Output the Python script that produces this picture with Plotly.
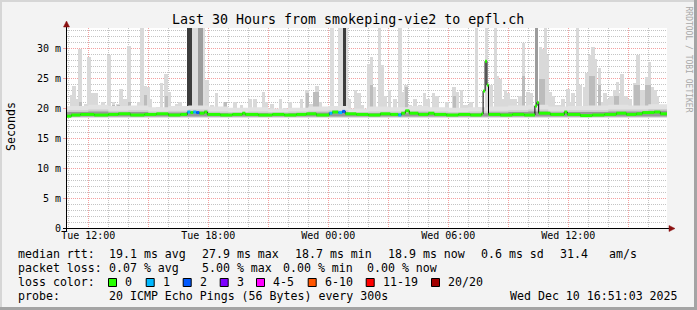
import plotly.graph_objects as go

# ---------------- data (hours counted from Tue 00:00, values in ms) ----------------
x_tick_hours = [12, 15, 18, 21, 24, 27, 30, 33, 36, 39]
x_tick_labels = ["Tue 12:00", "", "Tue 18:00", "", "Wed 00:00", "", "Wed 06:00", "", "Wed 12:00", ""]
x_minor_hours = [11, 13, 14, 16, 17, 19, 20, 22, 23, 25, 26, 28, 29, 31, 32, 34, 35, 37, 38, 40]
y_tick_values = [0, 5, 10, 15, 20, 25, 30]
y_tick_labels = ["0", "5 m", "10 m", "15 m", "20 m", "25 m", "30 m"]
y_minor_values = [1, 2, 3, 4, 6, 7, 8, 9, 11, 12, 13, 14, 16, 17, 18, 19, 21, 22, 23, 24, 26, 27, 28, 29,
                  31, 32, 33]

# outlier spikes of the smoke (max ping of the step)
spike_hours = [11.19, 11.29, 11.59, 11.86, 12.04, 12.19, 12.39, 12.59, 13.04, 13.26, 13.49, 13.64,
               14.04, 14.29, 14.69, 14.86, 14.99, 15.26, 15.49, 15.67, 15.89, 16.06, 16.24, 16.44,
               16.84, 17.94, 18.19, 18.41, 18.64, 18.84, 19.09, 19.66, 19.89, 20.34, 20.59, 20.76,
               20.91, 21.61, 21.84, 22.49, 22.66, 22.94, 23.14, 23.31, 23.44, 23.84, 24.36, 25.36,
               25.54, 25.71, 26.01, 26.16, 26.29, 26.56, 26.69, 27.06, 27.34, 27.59, 27.69, 27.89,
               28.09, 28.59, 28.81, 29.26, 29.44, 29.74, 30.29, 30.44, 30.66, 30.84, 31.04, 31.41,
               31.54, 31.91, 32.36, 32.59, 32.74, 33.01, 33.19, 33.44, 33.76, 33.99, 34.61, 34.74,
               34.86, 35.09, 35.24, 35.39, 35.59, 35.99, 36.11, 36.46, 36.61, 36.81, 37.09, 37.24,
               37.36, 37.56, 37.69, 37.99, 38.34, 38.46, 38.69, 38.89, 39.34, 39.49, 39.66, 39.91,
               40.06, 40.21, 40.44, 40.64, 40.79,
               11.44, 12.74, 13.84, 14.54, 15.11, 16.59, 19.34, 20.09, 21.19, 22.09, 23.59, 25.04,
               26.84, 28.34, 28.99, 29.94, 31.14, 32.13, 32.46, 32.86, 33.34, 33.59, 34.14, 34.94,
               35.74, 36.24, 36.94, 37.84, 38.14, 38.59, 39.09, 39.79, 40.34]
spike_max = [22.2, 23.8, 30.0, 20.8, 28.6, 22.5, 22.6, 20.0, 29.0, 21.0, 20.8, 23.2,
             30.4, 20.0, 34.0, 23.8, 23.5, 20.0, 20.2, 24.3, 25.8, 22.8, 20.0, 20.8,
             20.0, 24.8, 20.5, 22.5, 20.0, 21.0, 20.0, 20.5, 20.0, 21.5, 20.0, 22.8,
             21.0, 21.5, 20.0, 20.0, 21.5, 23.0, 20.8, 22.8, 23.8, 20.0, 20.0, 23.0,
             22.5, 20.5, 27.5, 28.6, 23.5, 34.0, 27.2, 23.0, 21.5, 34.0, 22.8, 24.0,
             20.5, 20.5, 22.5, 22.5, 22.0, 20.0, 23.5, 22.8, 23.0, 20.5, 20.5, 34.0,
             20.3, 34.0, 34.0, 25.0, 21.5, 22.5, 21.5, 20.5, 31.0, 22.8, 30.3, 30.0,
             34.0, 22.8, 22.0, 20.5, 20.5, 23.3, 21.0, 34.0, 24.0, 23.5, 28.9, 30.3,
             28.3, 26.7, 21.0, 21.5, 23.0, 24.4, 25.8, 22.0, 24.2, 28.9, 23.0, 25.3,
             27.8, 23.5, 22.0, 20.5, 20.5,
             21.5, 21.0, 21.5, 21.0, 21.5, 21.0, 21.0, 21.5, 20.8, 21.0, 21.0, 21.5,
             22.0, 21.5, 21.5, 21.0, 21.0, 24.0, 25.5, 23.0, 21.5, 22.0, 22.5, 29.0,
             21.5, 22.5, 26.0, 22.5, 22.0, 22.5, 21.5, 23.0, 23.0]

# second smoke layer (most pings of the step)
mid_hours = [11.59, 13.26, 13.49, 14.04, 14.86, 15.89, 18.84, 22.94, 23.31, 23.44, 26.16, 27.89,
             30.29, 33.76, 34.61, 34.74, 37.09, 37.24, 37.56, 38.34, 38.46, 39.34, 39.49, 39.91, 40.06]
mid_top = [21.0, 20.5, 20.5, 21.0, 22.2, 22.0, 21.0, 22.5, 22.8, 22.8, 24.0, 23.5,
           22.0, 25.5, 25.0, 25.0, 25.5, 25.5, 24.0, 22.0, 22.0, 24.0, 24.0, 24.0, 24.0]

# bursts where many pings of consecutive steps were above the graph
burst_start = [16.95, 17.20, 17.50, 17.75, 24.09, 24.49, 24.72, 24.89, 34.33]
burst_end = [17.20, 17.50, 17.75, 17.85, 24.29, 24.71, 24.89, 24.99, 34.50]
burst_level = [3, 1, 2, 1, 1, 1, 3, 1, 2]      # 1 = few pings, 2 = half, 3 = most

# base band of the smoke (hourly)
band_hours = [10.9, 12, 13, 14, 15, 16, 17, 18, 19, 20, 21, 22, 23, 24, 25, 26, 27, 28, 29, 30, 31,
              32, 33, 34, 35, 36, 37, 38, 39, 40, 41]
band_top = [20.4, 20.6, 20.4, 20.5, 20.2, 20.4, 20.5, 20.3, 20.1, 20.2, 20.0, 20.1, 20.3, 20.4, 20.0,
            20.3, 20.2, 20.4, 20.2, 20.1, 20.2, 20.3, 20.5, 20.6, 20.3, 20.4, 20.5, 20.6, 20.5, 20.7, 20.4]
band_mid = [19.7, 19.8, 19.6, 19.7, 19.5, 19.6, 19.8, 19.5, 19.4, 19.5, 19.4, 19.5, 19.6, 19.7, 19.4,
            19.5, 19.5, 19.6, 19.5, 19.4, 19.5, 19.6, 19.7, 19.8, 19.6, 19.7, 19.7, 19.8, 19.8, 19.9, 19.7]
band_low = 18.4

# median rtt and number of lost pings per step
median_hours = [10.90, 11.15, 11.60, 12.30, 13.00, 13.50, 14.10, 14.80, 15.40, 16.00, 16.60, 16.95,
                17.10, 17.25, 17.40, 17.55, 17.80, 17.95, 18.60, 19.20, 19.70, 19.85, 20.50, 21.20,
                21.80, 22.40, 22.90, 23.40, 24.05, 24.20, 24.50, 24.70, 24.85, 25.40, 26.00, 26.60,
                27.10, 27.50, 27.65, 27.85, 28.05, 28.50, 29.00, 29.30, 29.90, 30.50, 31.10, 31.66,
                31.74, 31.84, 31.93, 32.01, 32.60, 33.20, 33.80, 34.33, 34.43, 34.52, 35.10, 35.80,
                35.95, 36.60, 37.20, 37.80, 38.40, 38.90, 39.40, 39.70, 40.30, 40.60, 40.95]
median_ms = [18.7, 18.9, 19.0, 18.9, 19.0, 19.1, 18.9, 19.0, 19.1, 18.9, 19.0, 19.4,
             19.3, 19.4, 19.3, 19.2, 19.4, 19.0, 18.9, 19.0, 19.2, 19.0, 18.9, 19.0,
             18.9, 19.0, 19.1, 18.9, 19.2, 19.4, 19.3, 19.5, 19.1, 19.0, 18.9, 19.1,
             19.0, 18.9, 19.2, 19.6, 19.2, 19.0, 19.2, 19.0, 18.9, 19.0, 18.9, 19.1,
             22.9, 27.9, 23.9, 19.0, 18.9, 19.0, 18.9, 20.4, 21.0, 19.2, 19.0, 19.4,
             19.0, 18.8, 18.9, 19.0, 19.2, 19.0, 19.1, 19.3, 19.4, 19.1, 19.0]
median_loss = [0, 0, 0, 0, 0, 0, 0, 0, 0, 0, 0, 1,
               0, 1, 2, 0, 0, 0, 0, 0, 0, 0, 0, 0,
               0, 0, 0, 0, 1, 0, 1, 2, 0, 0, 0, 0,
               0, 1, 0, 0, 0, 0, 0, 0, 0, 0, 0, 0,
               0, 0, 0, 0, 0, 0, 0, 0, 0, 0, 0, 0,
               0, 0, 0, 0, 0, 0, 0, 0, 0, 0, 0]

loss_labels = ["0", "1", "2", "3", "4-5", "6-10", "11-19", "20/20"]
loss_colors = ["#26ff00", "#00b8ff", "#0059ff", "#7e00ff", "#ff00ff", "#ff5500", "#ff0000", "#a10000"]

rtt_stats = [19.1, 27.9, 18.7, 18.9, 0.6]
rtt_names = ["avg", "max", "min", "now", "sd"]
am_s = 31.4
loss_stats = [0.07, 5.00, 0.00, 0.00]
loss_names = ["avg", "max", "min", "now"]
probe_text = "20 ICMP Echo Pings (56 Bytes) every 300s"
stamp_text = "Wed Dec 10 16:51:03 2025"
title_text = "Last 30 Hours from smokeping-vie2 to epfl.ch"

# ---------------- layout constants (pixels) ----------------
WIDTH, HEIGHT = 697, 310
L, R, T, B = 67, 667, 28, 228
PW, PH = R - L, B - T
MONO = "DejaVu Sans Mono"
X_RANGE = [10.935, 40.935]
Y_RANGE = [0, 33.45]


def px(x):
    return (x - L) / PW


def py(y):
    return (B - y) / PH


fig = go.Figure()

# base band (light)
fig.add_trace(go.Scatter(x=band_hours, y=[band_low] * len(band_hours), mode="lines",
                         line=dict(width=0, shape="hv"), hoverinfo="skip"))
fig.add_trace(go.Scatter(x=band_hours, y=band_top, mode="lines", fill="tonexty",
                         fillcolor="#e2e2e2", line=dict(width=0, shape="hv"), hoverinfo="skip"))

# spikes
fig.add_trace(go.Bar(x=spike_hours, y=[m - band_low for m in spike_max], base=band_low, width=0.17,
                     marker=dict(color="#d9d9d9", line_width=0), hoverinfo="skip"))

# bursts
burst_colors = {1: "#dcdcdc", 2: "#9c9c9c", 3: "#3c3c3c"}
for s, e, lv in zip(burst_start, burst_end, burst_level):
    fig.add_trace(go.Bar(x=[(s + e) / 2], y=[40 - band_low], base=band_low, width=e - s,
                         marker=dict(color=burst_colors[lv], line_width=0), hoverinfo="skip"))

# mid smoke
fig.add_trace(go.Bar(x=mid_hours, y=[m - band_low for m in mid_top], base=band_low, width=0.15,
                     marker=dict(color="#bcbcbc", line_width=0), hoverinfo="skip"))

# band mid and dark
fig.add_trace(go.Scatter(x=band_hours, y=[18.55] * len(band_hours), mode="lines",
                         line=dict(width=0, shape="hv"), hoverinfo="skip"))
fig.add_trace(go.Scatter(x=band_hours, y=band_mid, mode="lines", fill="tonexty",
                         fillcolor="#cecece", line=dict(width=0, shape="hv"), hoverinfo="skip"))
fig.add_trace(go.Scatter(x=band_hours, y=[18.65] * len(band_hours), mode="lines",
                         line=dict(width=0, shape="hv"), hoverinfo="skip"))
fig.add_trace(go.Scatter(x=band_hours, y=[m - 0.3 for m in band_mid], mode="lines", fill="tonexty",
                         fillcolor="#999999", line=dict(width=0, shape="hv"), hoverinfo="skip"))

# median line (dark) with loss coloured steps
fig.add_trace(go.Scatter(x=median_hours, y=median_ms, mode="lines",
                         line=dict(color="#000000", width=1, shape="hv"), hoverinfo="skip"))
for li, col in enumerate(loss_colors):
    xs, ys = [], []
    for i in range(len(median_hours) - 1):
        if median_loss[i] == li:
            xs += [median_hours[i], median_hours[i + 1], None]
            ys += [median_ms[i], median_ms[i], None]
    if xs:
        fig.add_trace(go.Scatter(x=xs, y=ys, mode="lines", line=dict(color=col, width=3),
                                 hoverinfo="skip"))

# dummy trace for the minor-grid overlay axes
fig.add_trace(go.Scatter(x=[None], y=[None], xaxis="x2", yaxis="y2", mode="lines", hoverinfo="skip"))

MAJOR = "#f4a0a0"
MINOR = "#c4c4c4"
DASH = "1px,1px"
fig.update_layout(
    xaxis=dict(range=X_RANGE, tickmode="array", tickvals=x_tick_hours, ticktext=x_tick_labels,
               showgrid=True, gridcolor=MAJOR, griddash=DASH, gridwidth=1,
               zeroline=False, showline=False, ticks="",
               tickfont=dict(family=MONO, size=10, color="#000000"), fixedrange=True),
    yaxis=dict(range=Y_RANGE, tickmode="array", tickvals=y_tick_values, ticktext=y_tick_labels,
               showgrid=True, gridcolor=MAJOR, griddash=DASH, gridwidth=1,
               zeroline=False, showline=False, ticks="outside", ticklen=3, tickcolor=MAJOR,
               tickfont=dict(family=MONO, size=10, color="#000000"), fixedrange=True),
    xaxis2=dict(overlaying="x", range=X_RANGE, tickmode="array", tickvals=x_minor_hours,
                showgrid=True, gridcolor=MINOR, griddash=DASH, gridwidth=1, showticklabels=False,
                ticks="", zeroline=False, showline=False, fixedrange=True),
    yaxis2=dict(overlaying="y", range=Y_RANGE, tickmode="array", tickvals=y_minor_values,
                showgrid=True, gridcolor=MINOR, griddash=DASH, gridwidth=1, showticklabels=False,
                ticks="", zeroline=False, showline=False, fixedrange=True),
)

shapes = []
# frame
shapes.append(dict(type="rect", xref="paper", yref="paper", x0=px(0), x1=px(697), y0=py(0), y1=py(2),
                   fillcolor="#d6d6d6", line_width=0, layer="above"))
shapes.append(dict(type="rect", xref="paper", yref="paper", x0=px(0), x1=px(2), y0=py(0), y1=py(310),
                   fillcolor="#d6d6d6", line_width=0, layer="above"))
shapes.append(dict(type="rect", xref="paper", yref="paper", x0=px(694), x1=px(697), y0=py(0), y1=py(310),
                   fillcolor="#a4a4a4", line_width=0, layer="above"))
shapes.append(dict(type="rect", xref="paper", yref="paper", x0=px(0), x1=px(697), y0=py(307), y1=py(310),
                   fillcolor="#a4a4a4", line_width=0, layer="above"))
# axes
shapes.append(dict(type="line", xref="paper", yref="paper", x0=px(63), x1=px(670), y0=py(228.5), y1=py(228.5),
                   line=dict(color="#000000", width=1), layer="above"))
shapes.append(dict(type="line", xref="paper", yref="paper", x0=px(66.5), x1=px(66.5), y0=py(231), y1=py(25),
                   line=dict(color="#000000", width=1), layer="above"))
# arrows
shapes.append(dict(type="path", xref="paper", yref="paper",
                   path=f"M {px(63.5)} {py(27)} L {px(69.5)} {py(27)} L {px(66.5)} {py(21)} Z",
                   fillcolor="#8b1010", line=dict(color="#8b1010", width=0.5), layer="above"))
shapes.append(dict(type="path", xref="paper", yref="paper",
                   path=f"M {px(669)} {py(225.5)} L {px(669)} {py(231.5)} L {px(675)} {py(228.5)} Z",
                   fillcolor="#8b1010", line=dict(color="#8b1010", width=0.5), layer="above"))

ann = []
FS = 11.6


def text(x, y, s, size=FS, color="#000000", anchor="left", angle=0):
    ann.append(dict(xref="paper", yref="paper", x=px(x), y=py(y), text=s, showarrow=False,
                    xanchor=anchor, yanchor="middle", textangle=angle,
                    font=dict(family=MONO, size=size, color=color)))


text(348, 19, title_text, size=13.3, anchor="center")
text(11, 127, "Seconds", angle=-90, anchor="center")
text(688.5, 59, "RRDTOOL / TOBI OETIKER", size=8, color="#a8a8a8", anchor="center", angle=90)

# row 1
row1_x = [107.3, 200, 293.3, 386, 479.3]
text(16, 254.3, "median rtt:")
for xx, v, n in zip(row1_x, rtt_stats, rtt_names):
    text(xx, 254.3, f"{v:.1f} ms {n}")
text(558.3, 254.3, f"{am_s:.1f}")
text(607.3, 254.3, "am/s")
# row 2
row2_x = [107.3, 199.5, 281, 365]
text(16, 268.3, "packet loss:")
for xx, v, n in zip(row2_x, loss_stats, loss_names):
    text(xx, 268.3, f"{v:.2f} % {n}")
# row 3
sq_x = [108, 145.7, 182.7, 219.7, 256, 307.7, 365.7, 431]
text(16, 282.3, "loss color:")
for xx, lab, col in zip(sq_x, loss_labels, loss_colors):
    shapes.append(dict(type="rect", xref="paper", yref="paper", x0=px(xx + 0.5), x1=px(xx + 8.5),
                       y0=py(278.5), y1=py(286.5), fillcolor=col, line=dict(color="#000000", width=1),
                       layer="above"))
    text(xx + 15, 282.3, lab)
# row 4
text(16, 295.7, "probe:")
text(107.3, 295.7, probe_text)
text(680, 295.7, stamp_text, anchor="right")

fig.update_layout(width=WIDTH, height=HEIGHT, margin=dict(l=L, r=WIDTH - R, t=T, b=HEIGHT - B),
                  paper_bgcolor="#f3f3f3", plot_bgcolor="#ffffff", showlegend=False,
                  barmode="overlay", bargap=0, shapes=shapes, annotations=ann, hovermode=False)

fig.write_html("out.html", config={"displayModeBar": False, "staticPlot": True})
